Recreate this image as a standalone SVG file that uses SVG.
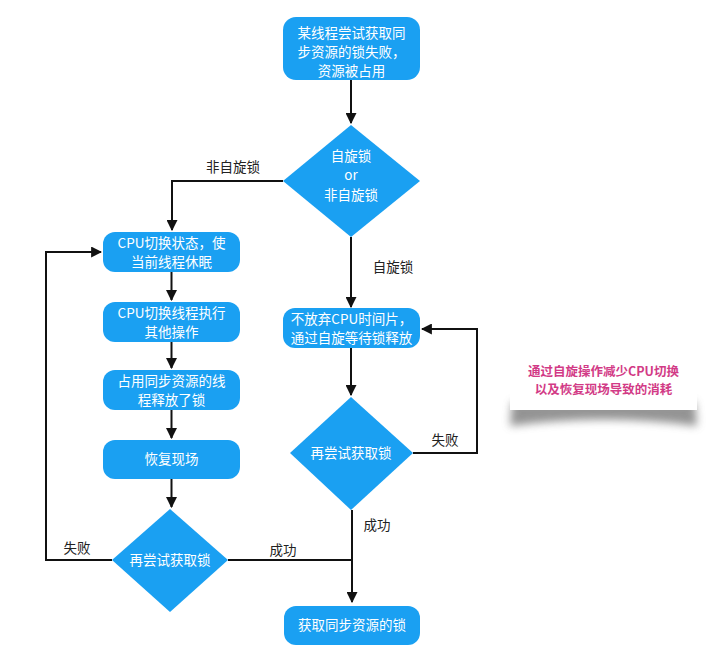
<svg xmlns="http://www.w3.org/2000/svg" width="716" height="653" viewBox="0 0 716 653">
<defs>
<style>
.box{fill:#1aa0f2;}
.t{font-family:"Noto Sans CJK SC","Liberation Sans",sans-serif;font-size:13.5px;fill:#ffffff;text-anchor:middle;}
.lbl{font-family:"Noto Sans CJK SC","Liberation Sans",sans-serif;font-size:13.5px;fill:#222222;text-anchor:middle;}
.note{font-family:"Noto Sans CJK SC","Liberation Sans",sans-serif;font-size:12.5px;font-weight:bold;fill:#d23a86;text-anchor:middle;}
.c{fill:none;stroke:#111111;stroke-width:2;}
</style>
<marker id="a" viewBox="0 0 10 10" refX="9" refY="5" markerWidth="11" markerHeight="11" orient="auto" markerUnits="userSpaceOnUse">
<path d="M0,0 L10,5 L0,10 z" fill="#111111"/>
</marker>
<filter id="blur" x="-20%" y="-50%" width="140%" height="200%">
<feGaussianBlur stdDeviation="4"/>
</filter>
</defs>
<rect width="716" height="653" fill="#ffffff"/>

<g id="connectors">
<path class="c" d="M351,80 L351,123" marker-end="url(#a)"/>
<path class="c" d="M283,181 L172,181 L172,230" marker-end="url(#a)"/>
<path class="c" d="M351,237 L351,307" marker-end="url(#a)"/>
<path class="c" d="M171.5,272 L171.5,300" marker-end="url(#a)"/>
<path class="c" d="M171.5,342 L171.5,368" marker-end="url(#a)"/>
<path class="c" d="M171.5,410 L171.5,438" marker-end="url(#a)"/>
<path class="c" d="M171.5,479 L171.5,507" marker-end="url(#a)"/>
<path class="c" d="M351,348 L351,395" marker-end="url(#a)"/>
<path class="c" d="M413,453 L477,453 L477,329 L422,329" marker-end="url(#a)"/>
<path class="c" d="M112,560 L46,560 L46,252 L101,252" marker-end="url(#a)"/>
<path class="c" d="M228,560 L352,560"/>
<path class="c" d="M352,510 L352,602" marker-end="url(#a)"/>
<text class="lbl" x="233" y="172">非自旋锁</text>
<text class="lbl" x="393" y="272">自旋锁</text>
<text class="lbl" x="445" y="445">失败</text>
<text class="lbl" x="377" y="530">成功</text>
<text class="lbl" x="77" y="553">失败</text>
<text class="lbl" x="283" y="555">成功</text>
</g>

<g id="n-start">
<rect class="box" x="283" y="17" width="137" height="63" rx="13"/>
<text class="t" x="351.5" y="38">某线程尝试获取同</text>
<text class="t" x="351.5" y="57">步资源的锁失败，</text>
<text class="t" x="351.5" y="76">资源被占用</text>
</g>

<g id="n-decide">
<path class="box" d="M351,125 L420,181 L351,237 L283,181 Z"/>
<text class="t" x="351" y="161">自旋锁</text>
<text class="t" x="351" y="180" font-size="13">or</text>
<text class="t" x="351" y="200">非自旋锁</text>
</g>

<g id="n-sleep">
<rect class="box" x="103" y="232" width="137" height="40" rx="12"/>
<text class="t" x="171.5" y="248">CPU切换状态，使</text>
<text class="t" x="171.5" y="267">当前线程休眠</text>
</g>

<g id="n-switch">
<rect class="box" x="103" y="302" width="137" height="40" rx="12"/>
<text class="t" x="171.5" y="318">CPU切换线程执行</text>
<text class="t" x="171.5" y="337">其他操作</text>
</g>

<g id="n-release">
<rect class="box" x="103" y="370" width="137" height="40" rx="12"/>
<text class="t" x="171.5" y="386">占用同步资源的线</text>
<text class="t" x="171.5" y="405">程释放了锁</text>
</g>

<g id="n-restore">
<rect class="box" x="103" y="440" width="137" height="39" rx="12"/>
<text class="t" x="171.5" y="464">恢复现场</text>
</g>

<g id="n-retry-left">
<path class="box" d="M170,509 L228,560 L170,612 L112,560 Z"/>
<text class="t" x="170" y="565">再尝试获取锁</text>
</g>

<g id="n-spin">
<rect class="box" x="283" y="308" width="137" height="40" rx="12"/>
<text class="t" x="351.5" y="324">不放弃CPU时间片，</text>
<text class="t" x="351.5" y="343">通过自旋等待锁释放</text>
</g>

<g id="n-retry-right">
<path class="box" d="M351,397 L413,453 L351,510 L290,453 Z"/>
<text class="t" x="351" y="458">再尝试获取锁</text>
</g>

<g id="n-acquire">
<rect class="box" x="284" y="606" width="136" height="39" rx="12"/>
<text class="t" x="352" y="630">获取同步资源的锁</text>
</g>

<g id="note">
<path d="M512,402 L695,402 L697,426 Q604,413 510,426 Z" fill="#666666" opacity="0.7" filter="url(#blur)"/>
<rect x="510" y="348" width="187" height="62" fill="#ffffff"/>
<text class="note" x="603.5" y="376">通过自旋操作减少CPU切换</text>
<text class="note" x="603.5" y="394">以及恢复现场导致的消耗</text>
</g>
</svg>
